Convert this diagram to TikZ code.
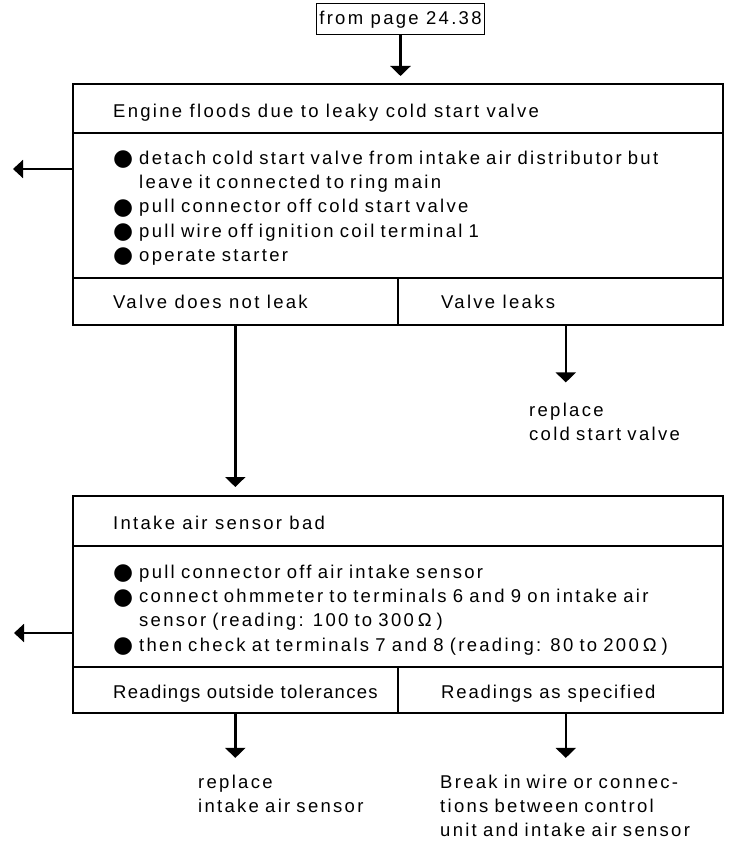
\documentclass[tikz,border=0pt]{standalone}
\usepackage{fontspec}
\setmainfont{Liberation Sans}[LetterSpace=12.4]
\newfontfamily\dotfont{DejaVu Sans}
\usetikzlibrary{arrows.meta}

\setlength\parskip{0pt}
\newcommand\bitem[1]{\par\noindent
  \makebox[26pt][l]{\raisebox{-1.4pt}{\dotfont\fontsize{23}{23}\selectfont ●}}#1}
\newcommand\bcont[1]{\par\noindent\hspace*{26pt}#1}

\begin{document}
\begin{tikzpicture}[x=1pt,y=-1pt,
    every node/.style={font=\fontsize{18.5}{24.2}\selectfont},
    frame/.style={draw, line width=1.6pt, inner sep=0pt, anchor=north west},
    txt/.style={inner sep=0pt, anchor=base west},
    steps/.style={inner sep=0pt, anchor=north west, text width=600pt, align=left},
    result/.style={txt, text width=290pt, align=left},
    arr/.style={line width=2.4pt, -{Triangle[width=20pt,length=10pt]}},
    side/.style={line width=2pt, -{Triangle[width=18pt,length=10pt]}}]
  \useasboundingbox (0,0) rectangle (728,843);

  \node[draw, line width=1pt, inner xsep=3pt, minimum height=31pt] (src) at (400.5,19.5) {from page 24.38};

  % first test
  \node[frame, minimum width=650pt, minimum height=49pt] (t1) at (72,83) {};
  \node[frame, minimum width=650pt, minimum height=145pt] (b1) at (72,132) {};
  \node[frame, minimum width=325pt, minimum height=47pt] (d1) at (72,277) {};
  \node[frame, minimum width=325pt, minimum height=47pt] (d2) at (397,277) {};

  \node[txt] (t1txt) at (113,117) {Engine floods due to leaky cold start valve};
  \node[steps] (b1txt) at (113,140) {%
    \bitem{detach cold start valve from intake air distributor but}
    \bcont{leave it connected to ring main}
    \bitem{pull connector off cold start valve}
    \bitem{pull wire off ignition coil terminal 1}
    \bitem{operate starter}};
  \node[txt] (d1txt) at (113,308.5) {Valve does not leak};
  \node[txt] (d2txt) at (441,308.5) {Valve leaks};
  \node[result] (r1) at (529,416) {replace\\cold start valve};

  % second test
  \node[frame, minimum width=650pt, minimum height=50pt] (t2) at (72,495) {};
  \node[frame, minimum width=650pt, minimum height=121pt] (b2) at (72,545) {};
  \node[frame, minimum width=325pt, minimum height=46pt] (d3) at (72,666) {};
  \node[frame, minimum width=325pt, minimum height=46pt] (d4) at (397,666) {};

  \node[txt] (t2txt) at (113,529) {Intake air sensor bad};
  \node[steps] (b2txt) at (113,554) {%
    \bitem{pull connector off air intake sensor}
    \bitem{connect ohmmeter to terminals 6 and 9 on intake air}
    \bcont{sensor (reading: 100 to 300\hspace{4pt}Ω\hspace{5pt})}
    \bitem{then check at terminals 7 and 8 (reading: 80 to 200\hspace{4pt}Ω\hspace{5pt})}};
  \node[txt] (d3txt) at (113,698.5) {\addfontfeature{LetterSpace=7}Readings outside tolerances};
  \node[txt] (d4txt) at (441,698.5) {\addfontfeature{LetterSpace=10}Readings as specified};
  \node[result] (r3) at (198,788.5) {replace\\intake air sensor};
  \node[result] (r4) at (440,788.5) {Break in wire or connec-\\tions between control\\unit and intake air sensor};

  \coordinate (o1) at (13,169);
  \coordinate (o2) at (14,633);

  \draw[arr, shorten >=7pt] (src.south) -- (src.south |- t1.north);
  \draw[side] (b1.west |- o1) -- (o1);
  \draw[arr, shorten >=8pt] (d1.south) -- (d1.south |- t2.north);
  \draw[arr, shorten >=20pt] ([xshift=5.5pt]d2.south) -- ([xshift=5.5pt]d2.south |- r1.north);
  \draw[side] (b2.west |- o2) -- (o2);
  \draw[arr, shorten >=17pt] (d3.south) -- (d3.south |- r3.north);
  \draw[arr, shorten >=17pt] ([xshift=5.5pt]d4.south) -- ([xshift=5.5pt]d4.south |- r4.north);
\end{tikzpicture}
\end{document}
